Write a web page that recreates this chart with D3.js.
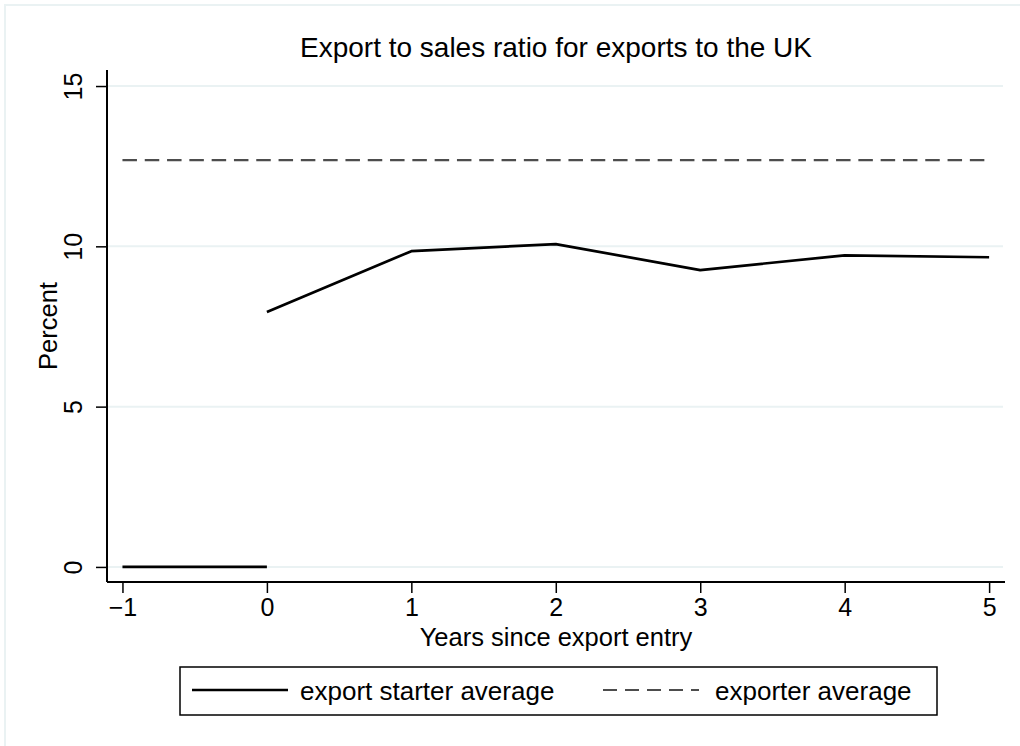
<!DOCTYPE html>
<html>
<head>
<meta charset="utf-8">
<script src="https://cdn.jsdelivr.net/npm/d3@7"></script>
<style>
  body { margin: 0; background: #fff; }
  text { font-family: "Liberation Sans", Arial, sans-serif; fill: #000; }
</style>
</head>
<body>
<div id="chart"></div>
<script>
// data
const years = [-1, 0, 1, 2, 3, 4, 5];
const starterPre = [{ year: -1, value: 0 }, { year: 0, value: 0 }];
const starterYears = [0, 1, 2, 3, 4, 5];
const starterValues = [7.95, 9.85, 10.07, 9.26, 9.72, 9.66];
const exporterAvg = 12.69;
const yTicks = [0, 5, 10, 15];
const legendLabels = ["export starter average", "exporter average"];

const width = 1020, height = 746;
const margin = { left: 107, right: 15, top: 70, bottom: 164 };

const svg = d3.select("#chart").append("svg")
  .attr("width", width)
  .attr("height", height);

// faint outer frame like stata
svg.append("rect")
  .attr("x", 5).attr("y", 5)
  .attr("width", width + 20).attr("height", height + 20)
  .attr("fill", "none")
  .attr("stroke", "#eaf2f3")
  .attr("stroke-width", 2);

const x = d3.scaleLinear().domain([-1.107, 5.11]).range([margin.left, width - margin.right]);
const y = d3.scaleLinear().domain([-0.47, 15.5]).range([height - margin.bottom, margin.top]);

// gridlines
svg.append("g")
  .selectAll("line")
  .data(yTicks)
  .enter()
  .append("line")
  .attr("x1", x(-1.107) + 1)
  .attr("x2", x(5.11) - 2)
  .attr("y1", (d) => y(d))
  .attr("y2", (d) => y(d))
  .attr("stroke", "#eaf2f3")
  .attr("stroke-width", 2);

// axes
const xAxis = svg.append("g")
  .attr("transform", `translate(0,${y(-0.47)})`)
  .call(d3.axisBottom(x).tickValues(years).tickSize(11).tickPadding(5).tickFormat((d) => d < 0 ? "\u2212" + Math.abs(d) : d));
xAxis.select(".domain").attr("stroke-width", 2).attr("d", `M${x(-1.107)},0H${x(5.11)}`);
xAxis.selectAll(".tick line").attr("stroke-width", 1.5);
xAxis.selectAll("text").style("font-size", "25px").style("font-family", "Liberation Sans, Arial, sans-serif");

const yAxis = svg.append("g")
  .attr("transform", `translate(${margin.left},0)`)
  .call(d3.axisLeft(y).tickValues(yTicks).tickSize(11).tickFormat(d3.format("d")));
yAxis.select(".domain").attr("stroke-width", 2).attr("d", `M0,${y(15.5)}V${y(-0.47)}`);
yAxis.selectAll(".tick line").attr("stroke-width", 1.5);
yAxis.selectAll(".tick text")
  .attr("x", 0).attr("dy", null)
  .attr("text-anchor", "middle")
  .attr("transform", "translate(-25,0) rotate(-90)")
  .style("font-size", "25px")
  .style("font-family", "Liberation Sans, Arial, sans-serif");

// axis titles
svg.append("text")
  .attr("x", (x(-1.107) + x(5.11)) / 2)
  .attr("y", 646)
  .attr("text-anchor", "middle")
  .style("font-size", "25.5px")
  .text("Years since export entry");

svg.append("text")
  .attr("transform", `translate(57,${(y(15.5) + y(-0.47)) / 2}) rotate(-90)`)
  .attr("text-anchor", "middle")
  .style("font-size", "25.5px")
  .text("Percent");

svg.append("text")
  .attr("x", (x(-1.107) + x(5.11)) / 2)
  .attr("y", 57)
  .attr("text-anchor", "middle")
  .style("font-size", "28px")
  .text("Export to sales ratio for exports to the UK");

// lines
const line = d3.line().x((d) => x(d.year)).y((d) => y(d.value));

svg.append("path")
  .attr("fill", "none")
  .attr("stroke", "#4d4d4d")
  .attr("stroke-width", 2.2)
  .style("stroke-dasharray", "14.5, 7.8")
  .attr("d", line(years.map((yr) => ({ year: yr, value: exporterAvg }))));

svg.append("path")
  .attr("fill", "none")
  .attr("stroke", "#000")
  .attr("stroke-width", 2.7)
  .attr("d", line(starterPre));

const starter = starterYears.map((yr, i) => ({ year: yr, value: starterValues[i] }));
svg.append("path")
  .attr("fill", "none")
  .attr("stroke", "#000")
  .attr("stroke-width", 2.7)
  .attr("stroke-linejoin", "round")
  .attr("d", line(starter));

// legend
const legend = svg.append("g");
legend.append("rect")
  .attr("x", 180).attr("y", 667)
  .attr("width", 757).attr("height", 48)
  .attr("fill", "#fff")
  .attr("stroke", "#000")
  .attr("stroke-width", 1.5);

legend.append("line")
  .attr("x1", 192).attr("x2", 288)
  .attr("y1", 690).attr("y2", 690)
  .attr("stroke", "#000").attr("stroke-width", 2.7);
legend.append("text")
  .attr("x", 300).attr("y", 700)
  .style("font-size", "26px")
  .text(legendLabels[0]);

legend.append("line")
  .attr("x1", 603).attr("x2", 699)
  .attr("y1", 690).attr("y2", 690)
  .attr("stroke", "#4d4d4d").attr("stroke-width", 2.2)
  .style("stroke-dasharray", "14, 8");
legend.append("text")
  .attr("x", 715).attr("y", 700)
  .style("font-size", "26px")
  .text(legendLabels[1]);
</script>
</body>
</html>
